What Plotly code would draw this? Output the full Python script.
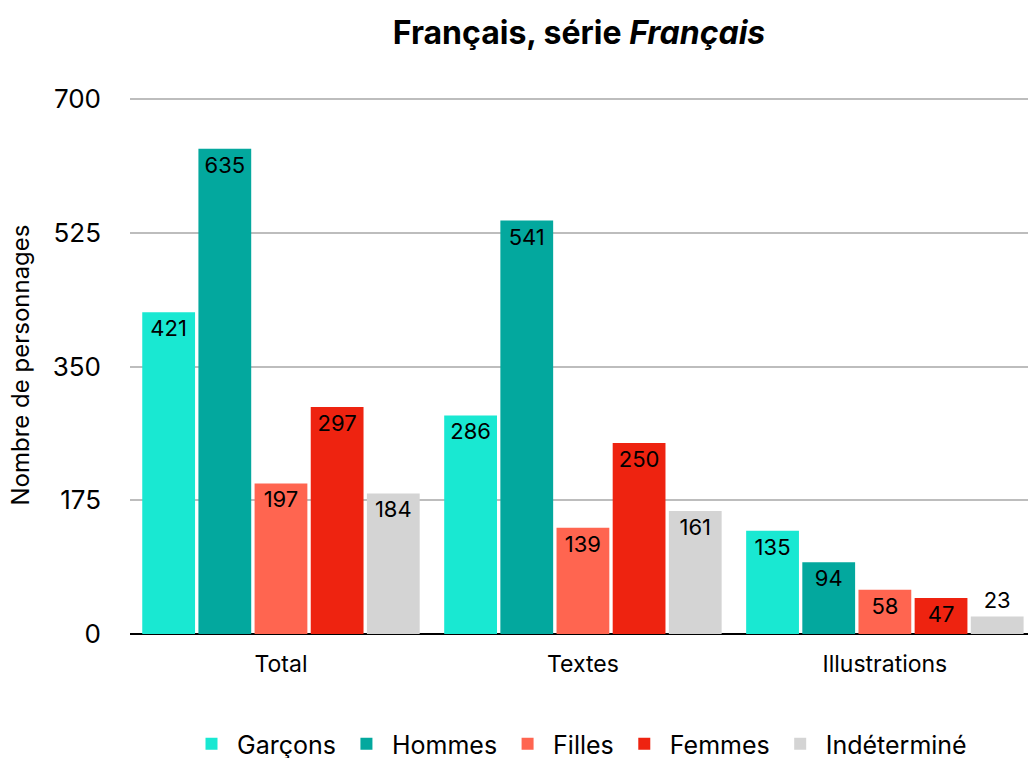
import plotly.graph_objects as go

categories = ["Total", "Textes", "Illustrations"]
series_names = ["Garçons", "Hommes", "Filles", "Femmes", "Indéterminé"]
garcons = [421, 286, 135]
hommes = [635, 541, 94]
filles = [197, 139, 58]
femmes = [297, 250, 47]
indetermine = [184, 161, 23]
y_ticks = [0, 175, 350, 525, 700]

values = [garcons, hommes, filles, femmes, indetermine]
colors = ["#19E8D2", "#03A89E", "#FF6550", "#EE2310", "#D4D4D4"]

FONT = "Inter"

fig = go.Figure()
for name, vals, col in zip(series_names, values, colors):
    fig.add_trace(go.Bar(
        name=name, x=categories, y=vals, marker=dict(color=col, line=dict(width=0)),
        text=[str(v) for v in vals], textposition="auto", insidetextanchor="end",
        textfont=dict(family=FONT, size=22, color="black"),
        insidetextfont=dict(family=FONT, size=22, color="black"),
        outsidetextfont=dict(family=FONT, size=22, color="black"),
        cliponaxis=False,
    ))

fig.update_layout(
    width=1028, height=758,
    margin=dict(l=130, r=0, t=96, b=124),
    paper_bgcolor="white", plot_bgcolor="white",
    barmode="group", bargap=0.07, bargroupgap=0.06,
    font=dict(family=FONT, color="black"),
    title=dict(text="<b>Français, série <i>Français</i></b>", x=0.5, xref="paper",
               y=1 - 33/758, yref="container", yanchor="middle",
               font=dict(family=FONT, size=32, color="black")),
    legend=dict(orientation="h", x=0.5, xanchor="center",
                y=1 - 744/758, yref="container", yanchor="middle",
                font=dict(family=FONT, size=25, color="black"), itemwidth=41,
                traceorder="normal"),
)
fig.update_xaxes(range=[-0.5, 2.474], showgrid=False, ticks="", showline=False,
                 automargin=False, ticklabelstandoff=14,
                 tickfont=dict(family=FONT, size=23, color="black"))
fig.update_yaxes(range=[0, 704], tickvals=y_ticks, showgrid=True, gridcolor="#BDBDBD",
                 gridwidth=2, zeroline=True, zerolinecolor="black", zerolinewidth=2,
                 tickfont=dict(family=FONT, size=26, color="black"), ticks="",
                 ticklabelstandoff=28, automargin=False,
                 title=dict(text="Nombre de personnages", font=dict(family=FONT, size=24, color="black"),
                            standoff=16))
fig.write_html("out.html", config={"displayModeBar": False},
               post_script="document.body.style.margin='0';document.body.style.overflow='hidden';")
